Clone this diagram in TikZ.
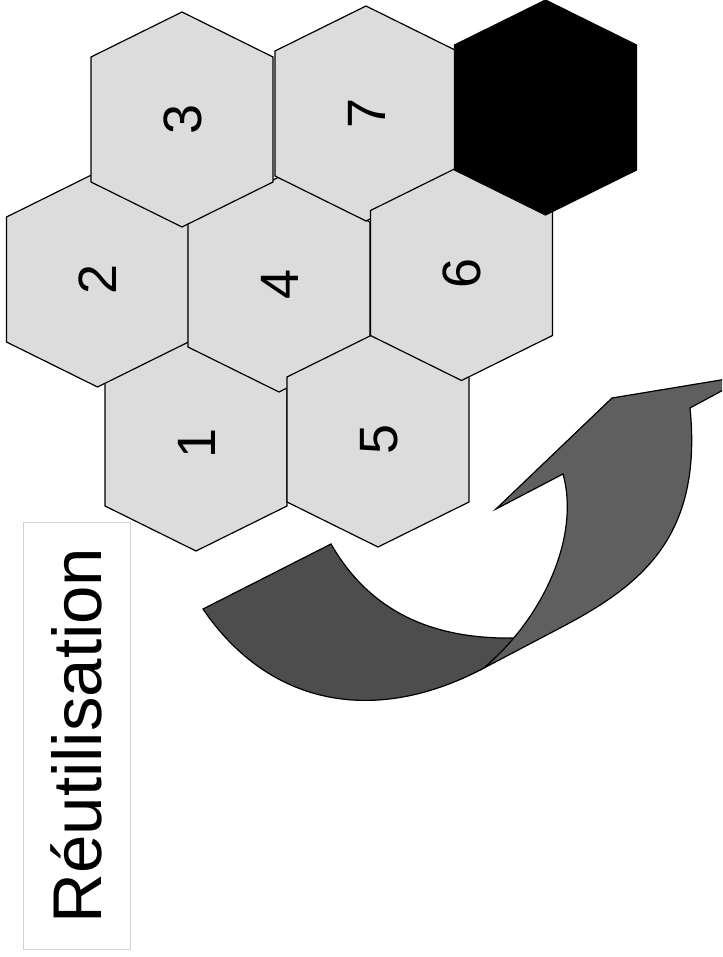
\documentclass[tikz,border=0pt]{standalone}
\usepackage{fontspec}
\setmainfont{Liberation Sans}
\definecolor{hexfill}{HTML}{DCDCDC}
\definecolor{arrowdark}{HTML}{4D4D4D}
\definecolor{arrowlight}{HTML}{5F5F5F}
\definecolor{boxgray}{HTML}{D0D0D0}
\tikzset{
  hexline/.style={draw=black, line width=1.2pt, line join=miter},
  digit/.style={rotate=90, font=\fontsize{54}{60}\selectfont, inner sep=0pt, text height=38pt, text depth=0pt},
  ribbon/.style={draw=black, line width=1.2pt, line join=miter},
  labelbox/.style={draw=boxgray, line width=1pt, rotate=90, inner sep=0pt,
    minimum width=427pt, minimum height=107pt, text height=49pt, text depth=0pt,
    font=\fontsize{69}{80}\selectfont},
}
\newcommand\hexcell[5]{%
  \begin{scope}[shift={(#1,#2)}]
    \draw[hexline, fill=#3] (0,-107.5) -- (91,-62.5) -- (91,62.5) -- (0,107.5) -- (-91,62.5) -- (-91,-62.5) -- cycle;
    \node[digit] (#4) at (0,0) {#5};
  \end{scope}}
\begin{document}
\begin{tikzpicture}[x=1pt,y=-1pt]
\useasboundingbox (0,0) rectangle (722,957);
\clip (0,0) rectangle (722,957);
% hexagons
\hexcell{196}{443.5}{hexfill}{h1}{1}
\hexcell{97.5}{279.5}{hexfill}{h2}{2}
\hexcell{279}{284.5}{hexfill}{h4}{4}
\hexcell{182}{119.5}{hexfill}{h3}{3}
\hexcell{366}{113.5}{hexfill}{h7}{7}
\hexcell{378}{439.5}{hexfill}{h5}{5}
\hexcell{461.5}{273}{hexfill}{h6}{6}
\begin{scope}[shift={(545.5,107.5)}]
  \draw[hexline, fill=black] (0,-107.5) -- (91,-62.5) -- (91,62.5) -- (0,107.5) -- (-91,62.5) -- (-91,-62.5) -- cycle;
\end{scope}
% curved arrow
\draw[ribbon, fill=arrowdark] (331,544) -- (203,609) .. controls (269,706) and (375,726) .. (484,668)
  -- (517,638) .. controls (430,640) and (369,610) .. (331,544) -- cycle;
\draw[ribbon, fill=arrowlight] (484,668) .. controls (545,616) and (580,535) .. (563,474)
  -- (496,509) -- (612,398) -- (751,375) -- (690,408)
  .. controls (703,538) and (640,586) .. (560,628) -- cycle;
% label
\node[labelbox] (reuse) at (76.5,735.5) {Réutilisation};
\end{tikzpicture}
\end{document}
